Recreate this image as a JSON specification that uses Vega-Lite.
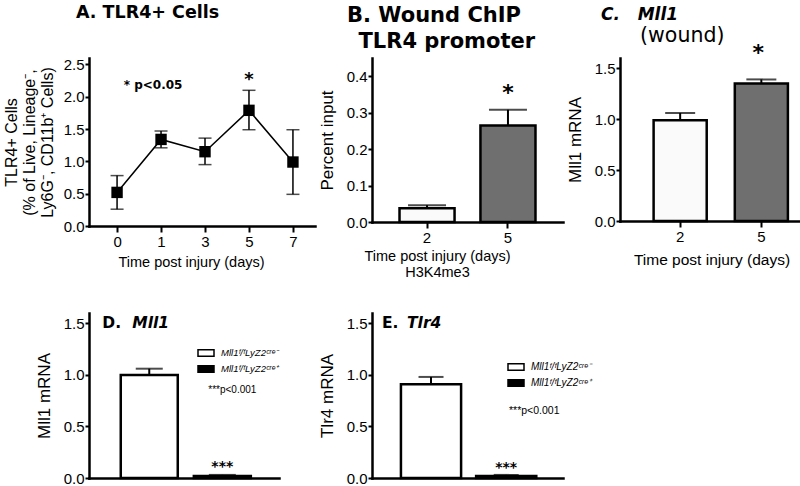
{
  "$schema": "https://vega.github.io/schema/vega-lite/v6.json",
  "background": "white",
  "padding": {"left": 3, "top": 3, "right": 0, "bottom": 0},
  "columns": 3,
  "align": "each",
  "bounds": "flush",
  "spacing": {"row": 87, "column": 57},
  "resolve": {"scale": {"x": "independent", "y": "independent", "fill": "independent"}, "axis": {"x": "independent", "y": "independent"}, "legend": {"fill": "independent"}},
  "config": {
    "view": {"stroke": null},
    "font": "Liberation Sans",
    "axis": {"domainColor": "black", "domainWidth": 2.5, "domainCap": "square", "tickColor": "black", "tickWidth": 2, "labelColor": "black", "titleColor": "black", "labelFont": "Liberation Sans", "titleFont": "Liberation Sans", "labelFontSize": 15, "titleFontWeight": "normal", "grid": false},
    "axisX": {"tickSize": 6, "labelPadding": 2, "labelAngle": 0, "titleFontSize": 14.5, "titlePadding": 6},
    "axisY": {"tickSize": 4, "labelPadding": 1, "titleFontSize": 17, "titlePadding": 10},
    "title": {"color": "black", "subtitleColor": "black"},
    "legend": {"labelColor": "black"}
  },
  "concat": [
    {
      "width": 226, "height": 168,
      "title": {"text": "A. TLR4+ Cells", "anchor": "start", "frame": "group", "dx": -13, "font": "DejaVu Sans", "fontWeight": "bold", "fontSize": 17.5, "offset": 36},
      "data": {"values": [
        {"day": "0", "mean": 0.52, "lo": 0.26, "hi": 0.78},
        {"day": "1", "mean": 1.34, "lo": 1.21, "hi": 1.47},
        {"day": "3", "mean": 1.15, "lo": 0.95, "hi": 1.36},
        {"day": "5", "mean": 1.79, "lo": 1.49, "hi": 2.10},
        {"day": "7", "mean": 0.99, "lo": 0.49, "hi": 1.49}
      ]},
      "encoding": {"x": {"field": "day", "type": "ordinal", "scale": {"type": "point", "padding": 0.57, "align": 0.56}, "axis": {"title": "Time post injury (days)", "titleX": 102, "titlePadding": 6}}},
      "layer": [
        {"mark": {"type": "rule", "color": "black", "strokeWidth": 1.5}, "encoding": {"y": {"field": "lo", "type": "quantitative", "title": ["TLR4+ Cells", "(% of Live, Lineage⁻,", "Ly6G⁻, CD11b⁺ Cells)"], "scale": {"domain": [0, 2.5]}, "axis": {"values": [0, 0.5, 1, 1.5, 2, 2.5], "format": ".1f", "titleFontSize": 16, "titlePadding": 8}}, "y2": {"field": "hi"}}},
        {"mark": {"type": "tick", "color": "black", "size": 13, "thickness": 1.5}, "encoding": {"y": {"field": "lo", "type": "quantitative", "title": ["TLR4+ Cells", "(% of Live, Lineage⁻,", "Ly6G⁻, CD11b⁺ Cells)"], "axis": {"values": [0, 0.5, 1, 1.5, 2, 2.5], "format": ".1f", "titleFontSize": 16, "titlePadding": 8}}}},
        {"mark": {"type": "tick", "color": "black", "size": 13, "thickness": 1.5}, "encoding": {"y": {"field": "hi", "type": "quantitative", "title": ["TLR4+ Cells", "(% of Live, Lineage⁻,", "Ly6G⁻, CD11b⁺ Cells)"], "axis": {"values": [0, 0.5, 1, 1.5, 2, 2.5], "format": ".1f", "titleFontSize": 16, "titlePadding": 8}}}},
        {"mark": {"type": "line", "color": "black", "strokeWidth": 1.5}, "encoding": {"y": {"field": "mean", "type": "quantitative", "title": ["TLR4+ Cells", "(% of Live, Lineage⁻,", "Ly6G⁻, CD11b⁺ Cells)"], "axis": {"values": [0, 0.5, 1, 1.5, 2, 2.5], "format": ".1f", "titleFontSize": 16, "titlePadding": 8}}}},
        {"mark": {"type": "point", "shape": "square", "filled": true, "size": 130, "color": "black", "opacity": 1}, "encoding": {"y": {"field": "mean", "type": "quantitative", "title": ["TLR4+ Cells", "(% of Live, Lineage⁻,", "Ly6G⁻, CD11b⁺ Cells)"], "axis": {"values": [0, 0.5, 1, 1.5, 2, 2.5], "format": ".1f", "titleFontSize": 16, "titlePadding": 8}}}},
        {"data": {"values": [{"day": "1", "y": 2.18, "label": "* p<0.05"}]}, "mark": {"type": "text", "font": "DejaVu Sans", "fontWeight": "bold", "fontSize": 12, "baseline": "middle", "align": "center", "dx": -8}, "encoding": {"y": {"field": "y", "type": "quantitative", "title": ["TLR4+ Cells", "(% of Live, Lineage⁻,", "Ly6G⁻, CD11b⁺ Cells)"], "axis": {"values": [0, 0.5, 1, 1.5, 2, 2.5], "format": ".1f", "titleFontSize": 16, "titlePadding": 8}}, "text": {"field": "label"}}},
        {"data": {"values": [{"day": "5", "y": 2.26, "label": "*"}]}, "mark": {"type": "text", "font": "DejaVu Sans", "fontWeight": "bold", "fontSize": 18, "baseline": "middle", "align": "center"}, "encoding": {"y": {"field": "y", "type": "quantitative", "title": ["TLR4+ Cells", "(% of Live, Lineage⁻,", "Ly6G⁻, CD11b⁺ Cells)"], "axis": {"values": [0, 0.5, 1, 1.5, 2, 2.5], "format": ".1f", "titleFontSize": 16, "titlePadding": 8}}, "text": {"field": "label"}}}
      ]
    },
    {
      "width": 191, "height": 164,
      "title": {"text": ["B.\u00a0Wound ChIP", "\u200b\u00a0\u2009TLR4 promoter"], "anchor": "start", "frame": "group", "dx": -25, "font": "DejaVu Sans", "fontWeight": "bold", "fontSize": 21, "lineHeight": 26, "offset": 6},
      "data": {"values": [{"day": "2", "v": 0.038, "hi": 0.046}, {"day": "5", "v": 0.265, "hi": 0.308}]},
      "encoding": {"x": {"field": "day", "type": "ordinal", "scale": {"paddingInner": 0.32, "paddingOuter": 0.34, "align": 0.5}, "axis": {"title": ["Time post injury (days)", "H3K4me3"], "titleX": 65, "titlePadding": 4}}},
      "layer": [
        {"mark": {"type": "rule", "color": "black", "strokeWidth": 2}, "encoding": {"y": {"field": "v", "type": "quantitative", "title": "Percent input", "scale": {"domain": [0, 0.41]}, "axis": {"values": [0, 0.1, 0.2, 0.3, 0.4], "format": ".1f"}}, "y2": {"field": "hi"}}},
        {"mark": {"type": "tick", "color": "black", "size": 38, "thickness": 2}, "encoding": {"y": {"field": "hi", "type": "quantitative", "title": "Percent input", "axis": {"values": [0, 0.1, 0.2, 0.3, 0.4], "format": ".1f"}}}},
        {"mark": {"type": "bar", "stroke": "black", "strokeWidth": 2.5}, "encoding": {"y": {"field": "v", "type": "quantitative", "title": "Percent input", "axis": {"values": [0, 0.1, 0.2, 0.3, 0.4], "format": ".1f"}}, "fill": {"field": "day", "type": "nominal", "scale": {"domain": ["2", "5"], "range": ["#fafafa", "#6f6f6f"]}, "legend": null}}},
        {"data": {"values": [{"day": "5", "y": 0.355, "label": "*"}]}, "mark": {"type": "text", "font": "DejaVu Sans", "fontWeight": "bold", "fontSize": 22, "baseline": "middle", "align": "center"}, "encoding": {"y": {"field": "y", "type": "quantitative", "title": "Percent input", "axis": {"values": [0, 0.1, 0.2, 0.3, 0.4], "format": ".1f"}}, "text": {"field": "label"}}}
      ]
    },
    {
      "width": 183, "height": 163,
      "title": {"text": "C.\u00a0\u00a0\u00a0Mll1", "subtitle": "\u200b\u00a0\u00a0\u00a0\u00a0\u00a0\u00a0(wound)", "anchor": "start", "frame": "group", "dx": -19, "font": "DejaVu Sans", "fontWeight": "bold", "fontStyle": "italic", "fontSize": 17, "subtitleFont": "DejaVu Sans", "subtitleFontSize": 20.5, "subtitlePadding": 2, "offset": -6},
      "data": {"values": [{"day": "2", "v": 0.99, "hi": 1.06}, {"day": "5", "v": 1.35, "hi": 1.39}]},
      "encoding": {"x": {"field": "day", "type": "ordinal", "scale": {"paddingInner": 0.346, "paddingOuter": 0.3, "align": 0.69}, "axis": {"title": "Time post injury (days)", "titlePadding": 8, "titleFontSize": 15.5}}},
      "layer": [
        {"mark": {"type": "rule", "color": "black", "strokeWidth": 2}, "encoding": {"y": {"field": "v", "type": "quantitative", "title": "Mll1 mRNA", "scale": {"domain": [0, 1.5]}, "axis": {"values": [0, 0.5, 1, 1.5], "format": ".1f"}}, "y2": {"field": "hi"}}},
        {"mark": {"type": "tick", "color": "black", "size": 30, "thickness": 2}, "encoding": {"y": {"field": "hi", "type": "quantitative", "title": "Mll1 mRNA", "axis": {"values": [0, 0.5, 1, 1.5], "format": ".1f"}}}},
        {"mark": {"type": "bar", "stroke": "black", "strokeWidth": 2.5}, "encoding": {"y": {"field": "v", "type": "quantitative", "title": "Mll1 mRNA", "axis": {"values": [0, 0.5, 1, 1.5], "format": ".1f"}}, "fill": {"field": "day", "type": "nominal", "scale": {"domain": ["2", "5"], "range": ["#fafafa", "#6f6f6f"]}, "legend": null}}},
        {"data": {"values": [{"day": "5", "y": 1.65, "label": "*"}]}, "mark": {"type": "text", "font": "DejaVu Sans", "fontWeight": "bold", "fontSize": 22, "baseline": "middle", "align": "center", "dx": -3}, "encoding": {"y": {"field": "y", "type": "quantitative", "title": "Mll1 mRNA", "axis": {"values": [0, 0.5, 1, 1.5], "format": ".1f"}}, "text": {"field": "label"}}}
      ]
    },
    {
      "width": 190, "height": 165,
      "data": {"values": [{"g": "Mll1ᶠ/ᶠLyZ2ᶜʳᵉ⁻", "v": 1.0, "hi": 1.06}, {"g": "Mll1ᶠ/ᶠLyZ2ᶜʳᵉ⁺", "v": 0.02, "hi": 0.03}]},
      "encoding": {"x": {"field": "g", "type": "nominal", "scale": {"domain": ["Mll1ᶠ/ᶠLyZ2ᶜʳᵉ⁻", "Mll1ᶠ/ᶠLyZ2ᶜʳᵉ⁺"], "paddingInner": 0.22, "paddingOuter": 0.41, "align": 0.53}, "axis": {"title": null, "labels": false, "ticks": false}}},
      "layer": [
        {"mark": {"type": "rule", "color": "black", "strokeWidth": 2}, "encoding": {"y": {"field": "v", "type": "quantitative", "title": "Mll1 mRNA", "scale": {"domain": [0, 1.5]}, "axis": {"values": [0, 0.5, 1, 1.5], "format": ".1f"}}, "y2": {"field": "hi"}}},
        {"mark": {"type": "tick", "color": "black", "size": 27, "thickness": 2}, "encoding": {"y": {"field": "hi", "type": "quantitative", "title": "Mll1 mRNA", "axis": {"values": [0, 0.5, 1, 1.5], "format": ".1f"}}}},
        {"mark": {"type": "bar", "stroke": "black", "strokeWidth": 2.5}, "encoding": {"y": {"field": "v", "type": "quantitative", "title": "Mll1 mRNA", "axis": {"values": [0, 0.5, 1, 1.5], "format": ".1f"}}, "fill": {"field": "g", "type": "nominal", "scale": {"domain": ["Mll1ᶠ/ᶠLyZ2ᶜʳᵉ⁻", "Mll1ᶠ/ᶠLyZ2ᶜʳᵉ⁺"], "range": ["white", "black"]}, "legend": {"orient": "none", "legendX": 108, "legendY": 31, "title": null, "padding": 0, "symbolType": "M-1,-0.4H1V0.4H-1Z", "symbolSize": 256, "symbolStrokeColor": "black", "symbolStrokeWidth": 1.5, "labelFont": "Liberation Sans", "labelFontStyle": "italic", "labelFontSize": 9.5, "labelOffset": 6, "rowPadding": -2}}}},
        {"data": {"values": [{"g": "Mll1ᶠ/ᶠLyZ2ᶜʳᵉ⁻", "y": 1.5, "label": "D."}]}, "mark": {"type": "text", "font": "DejaVu Sans", "fontWeight": "bold", "fontSize": 15.5, "baseline": "middle", "align": "left", "dx": -47}, "encoding": {"y": {"field": "y", "type": "quantitative", "title": "Mll1 mRNA", "axis": {"values": [0, 0.5, 1, 1.5], "format": ".1f"}}, "text": {"field": "label"}}},
        {"data": {"values": [{"g": "Mll1ᶠ/ᶠLyZ2ᶜʳᵉ⁻", "y": 1.5, "label": "Mll1"}]}, "mark": {"type": "text", "font": "DejaVu Sans", "fontWeight": "bold", "fontStyle": "italic", "fontSize": 15.5, "baseline": "middle", "align": "left", "dx": -17}, "encoding": {"y": {"field": "y", "type": "quantitative", "title": "Mll1 mRNA", "axis": {"values": [0, 0.5, 1, 1.5], "format": ".1f"}}, "text": {"field": "label"}}},
        {"data": {"values": [{"g": "Mll1ᶠ/ᶠLyZ2ᶜʳᵉ⁺", "y": 0.104, "label": "***"}]}, "mark": {"type": "text", "font": "DejaVu Sans", "fontWeight": "bold", "fontSize": 14, "baseline": "middle", "align": "center"}, "encoding": {"y": {"field": "y", "type": "quantitative", "title": "Mll1 mRNA", "axis": {"values": [0, 0.5, 1, 1.5], "format": ".1f"}}, "text": {"field": "label"}}},
        {"data": {"values": [{"g": "Mll1ᶠ/ᶠLyZ2ᶜʳᵉ⁺", "y": 0.85, "label": "***p<0.001"}]}, "mark": {"type": "text", "font": "Liberation Sans", "fontSize": 10, "baseline": "middle", "align": "center", "dx": 10}, "encoding": {"y": {"field": "y", "type": "quantitative", "title": "Mll1 mRNA", "axis": {"values": [0, 0.5, 1, 1.5], "format": ".1f"}}, "text": {"field": "label"}}}
      ]
    },
    {
      "width": 191, "height": 165,
      "data": {"values": [{"g": "Mll1ᶠ/ᶠLyZ2ᶜʳᵉ⁻", "v": 0.91, "hi": 0.98}, {"g": "Mll1ᶠ/ᶠLyZ2ᶜʳᵉ⁺", "v": 0.02, "hi": 0.03}]},
      "encoding": {"x": {"field": "g", "type": "nominal", "scale": {"domain": ["Mll1ᶠ/ᶠLyZ2ᶜʳᵉ⁻", "Mll1ᶠ/ᶠLyZ2ᶜʳᵉ⁺"], "paddingInner": 0.2, "paddingOuter": 0.37, "align": 0.52}, "axis": {"title": null, "labels": false, "ticks": false}}},
      "layer": [
        {"mark": {"type": "rule", "color": "black", "strokeWidth": 2}, "encoding": {"y": {"field": "v", "type": "quantitative", "title": "Tlr4 mRNA", "scale": {"domain": [0, 1.5]}, "axis": {"values": [0, 0.5, 1, 1.5], "format": ".1f"}}, "y2": {"field": "hi"}}},
        {"mark": {"type": "tick", "color": "black", "size": 25, "thickness": 2}, "encoding": {"y": {"field": "hi", "type": "quantitative", "title": "Tlr4 mRNA", "axis": {"values": [0, 0.5, 1, 1.5], "format": ".1f"}}}},
        {"mark": {"type": "bar", "stroke": "black", "strokeWidth": 2.5}, "encoding": {"y": {"field": "v", "type": "quantitative", "title": "Tlr4 mRNA", "axis": {"values": [0, 0.5, 1, 1.5], "format": ".1f"}}, "fill": {"field": "g", "type": "nominal", "scale": {"domain": ["Mll1ᶠ/ᶠLyZ2ᶜʳᵉ⁻", "Mll1ᶠ/ᶠLyZ2ᶜʳᵉ⁺"], "range": ["white", "black"]}, "legend": {"orient": "none", "legendX": 135, "legendY": 45, "title": null, "padding": 0, "symbolType": "M-1,-0.4H1V0.4H-1Z", "symbolSize": 256, "symbolStrokeColor": "black", "symbolStrokeWidth": 1.5, "labelFont": "Liberation Sans", "labelFontStyle": "italic", "labelFontSize": 10, "labelOffset": 6, "rowPadding": 0}}}},
        {"data": {"values": [{"g": "Mll1ᶠ/ᶠLyZ2ᶜʳᵉ⁻", "y": 1.5, "label": "E."}]}, "mark": {"type": "text", "font": "DejaVu Sans", "fontWeight": "bold", "fontSize": 15.5, "baseline": "middle", "align": "left", "dx": -49}, "encoding": {"y": {"field": "y", "type": "quantitative", "title": "Tlr4 mRNA", "axis": {"values": [0, 0.5, 1, 1.5], "format": ".1f"}}, "text": {"field": "label"}}},
        {"data": {"values": [{"g": "Mll1ᶠ/ᶠLyZ2ᶜʳᵉ⁻", "y": 1.5, "label": "Tlr4"}]}, "mark": {"type": "text", "font": "DejaVu Sans", "fontWeight": "bold", "fontStyle": "italic", "fontSize": 15.5, "baseline": "middle", "align": "left", "dx": -24}, "encoding": {"y": {"field": "y", "type": "quantitative", "title": "Tlr4 mRNA", "axis": {"values": [0, 0.5, 1, 1.5], "format": ".1f"}}, "text": {"field": "label"}}},
        {"data": {"values": [{"g": "Mll1ᶠ/ᶠLyZ2ᶜʳᵉ⁺", "y": 0.095, "label": "***"}]}, "mark": {"type": "text", "font": "DejaVu Sans", "fontWeight": "bold", "fontSize": 14, "baseline": "middle", "align": "center"}, "encoding": {"y": {"field": "y", "type": "quantitative", "title": "Tlr4 mRNA", "axis": {"values": [0, 0.5, 1, 1.5], "format": ".1f"}}, "text": {"field": "label"}}},
        {"data": {"values": [{"g": "Mll1ᶠ/ᶠLyZ2ᶜʳᵉ⁺", "y": 0.645, "label": "***p<0.001"}]}, "mark": {"type": "text", "font": "Liberation Sans", "fontSize": 10.5, "baseline": "middle", "align": "center", "dx": 28}, "encoding": {"y": {"field": "y", "type": "quantitative", "title": "Tlr4 mRNA", "axis": {"values": [0, 0.5, 1, 1.5], "format": ".1f"}}, "text": {"field": "label"}}}
      ]
    }
  ]
}
